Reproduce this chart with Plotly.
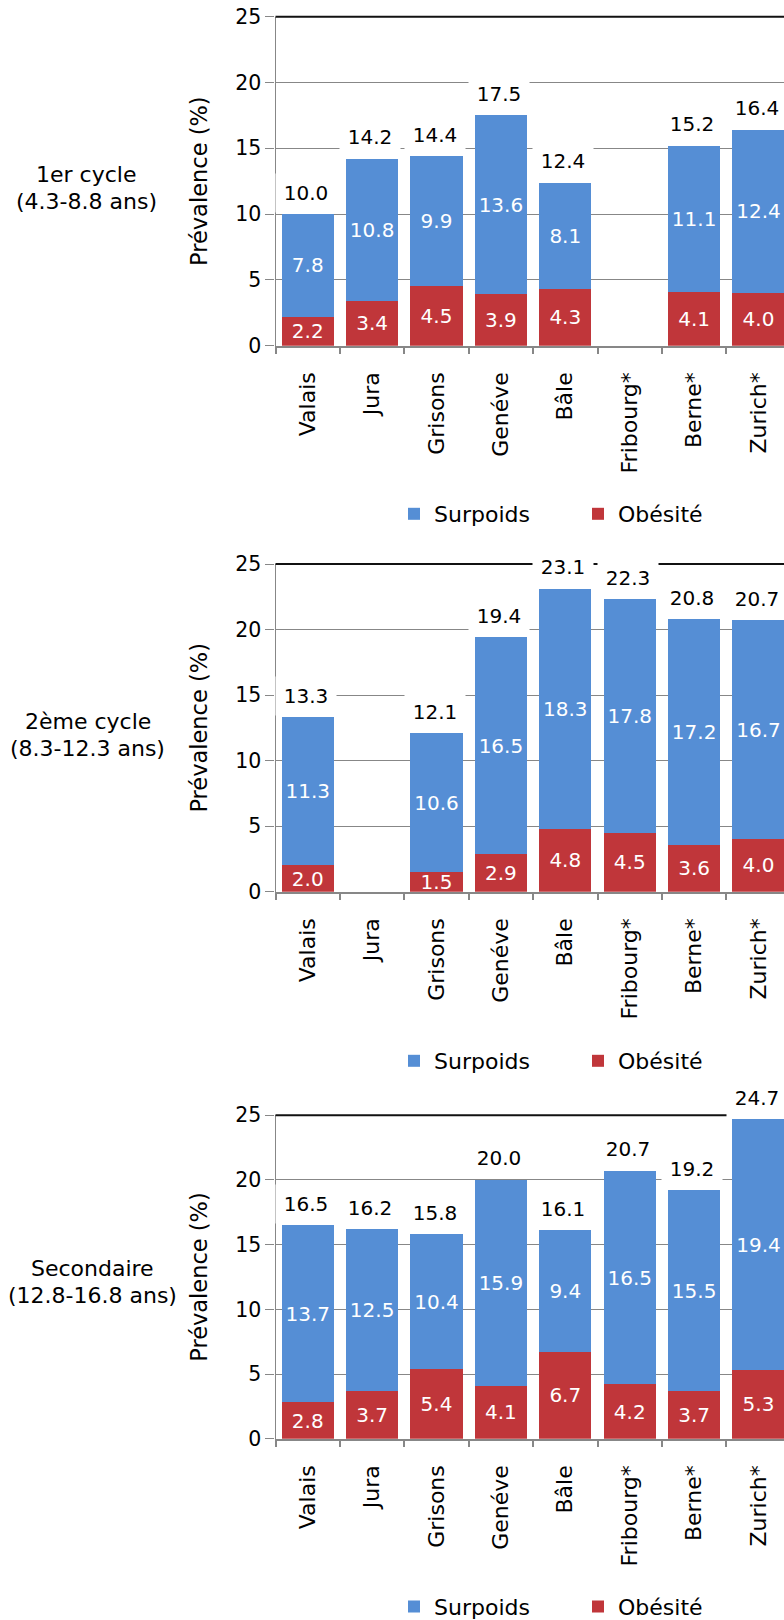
import plotly.graph_objects as go

# Cantons on the horizontal axis
categories = ["Valais", "Jura", "Grisons", "Genéve", "Bâle", "Fribourg*", "Berne*", "Zurich*"]

# Panel titles (age groups), two lines each
row_titles = ["1er cycle", "2ème cycle", "Secondaire"]
row_ages = ["(4.3-8.8 ans)", "(8.3-12.3 ans)", "(12.8-16.8 ans)"]

# Prevalence (%) — obesity and overweight, per age group
obesite_1 = [2.2, 3.4, 4.5, 3.9, 4.3, None, 4.1, 4.0]
surpoids_1 = [7.8, 10.8, 9.9, 13.6, 8.1, None, 11.1, 12.4]

obesite_2 = [2.0, None, 1.5, 2.9, 4.8, 4.5, 3.6, 4.0]
surpoids_2 = [11.3, None, 10.6, 16.5, 18.3, 17.8, 17.2, 16.7]

obesite_3 = [2.8, 3.7, 5.4, 4.1, 6.7, 4.2, 3.7, 5.3]
surpoids_3 = [13.7, 12.5, 10.4, 15.9, 9.4, 16.5, 15.5, 19.4]

y_ticks = [0, 5, 10, 15, 20, 25]

panels = [(obesite_1, surpoids_1), (obesite_2, surpoids_2), (obesite_3, surpoids_3)]

W, H = 784, 1620
FONT = "DejaVu Sans"
BLUE = "#558ED5"
RED = "#C0363A"
GRID = "#878787"

# pixel geometry of each panel: (top of axis = 25, bottom of axis = 0)
panel_px = [(16.7, 345.7), (564.0, 891.7), (1115.3, 1438.7)]
row_label_y = [188.3, 735, 1281.7]
row_label_x = [86, 87.5, 92]
legend_y = [514, 1061, 1606.7]
axis_left = 275.5
cat_px = 64.4


def py(p):
    return 1 - p / H


def fmt(v):
    return "" if v is None else f"{v:.1f}"


fig = go.Figure()
annotations = []
shapes = []
layout_axes = {}

for i, (ob, su) in enumerate(panels):
    n = "" if i == 0 else str(i + 1)
    xa, ya = "x" + n, "y" + n
    leg = "legend" + n

    fig.add_trace(go.Bar(
        x=categories, y=ob, name="Obésité", marker=dict(color=RED, line=dict(width=0)),
        text=[fmt(v) for v in ob], textposition="inside", insidetextanchor="middle",
        constraintext="none", textangle=0,
        textfont=dict(family=FONT, size=20, color="white"),
        xaxis=xa, yaxis=ya, legend=leg, legendrank=2, showlegend=True,
    ))
    fig.add_trace(go.Bar(
        x=categories, y=su, name="Surpoids", marker=dict(color=BLUE, line=dict(width=0)),
        text=[fmt(v) for v in su], textposition="inside", insidetextanchor="middle",
        constraintext="none", textangle=0,
        textfont=dict(family=FONT, size=20, color="white"),
        xaxis=xa, yaxis=ya, legend=leg, legendrank=1, showlegend=True,
    ))

    # totals above each stack, on a white label box
    for c, a, b in zip(categories, ob, su):
        if a is None or b is None:
            continue
        total = round(a + b, 1)
        annotations.append(dict(
            x=c, y=total, xref=xa, yref=ya, text=fmt(total), showarrow=False,
            yanchor="bottom", yshift=1.5, xshift=-2, width=60, height=38,
            bgcolor="white", borderpad=0,
            font=dict(family=FONT, size=20, color="black"),
        ))

    # black top border of the plot area (domain refs, so it is not clipped)
    shapes.append(dict(type="line", xref=xa + " domain", yref=ya + " domain",
                       x0=0, x1=1, y0=1, y1=1,
                       line=dict(color="#111111", width=2), layer="above"))

    # age-group label on the left (two lines)
    for txt, dy in ((row_titles[i], -13.35), (row_ages[i], 13.35)):
        annotations.append(dict(
            x=row_label_x[i] / W, y=py(row_label_y[i] + dy), xref="paper", yref="paper",
            text=txt, showarrow=False, align="center",
            xanchor="center", yanchor="middle",
            font=dict(family=FONT, size=22, color="black"),
        ))

    top, bot = panel_px[i]
    span = (W - axis_left) / cat_px
    layout_axes["xaxis" + n] = dict(
        domain=[axis_left / W, 1], anchor=ya, type="category",
        categoryorder="array", categoryarray=categories,
        range=[-0.5, -0.5 + span], automargin=False,
        showline=True, linecolor=GRID, linewidth=1.5,
        ticks="outside", tickson="boundaries", ticklen=7, tickcolor=GRID, tickwidth=1.5,
        ticklabelstandoff=16,
        tickangle=-90, tickfont=dict(family=FONT, size=22, color="black"),
        showgrid=False, zeroline=False, fixedrange=True,
    )
    layout_axes["yaxis" + n] = dict(
        domain=[py(bot), py(top)], anchor=xa, range=[0, 25], automargin=False,
        tickvals=y_ticks, ticktext=[str(t) for t in y_ticks],
        showgrid=True, gridcolor=GRID, gridwidth=1,
        showline=True, linecolor=GRID, linewidth=1.3,
        ticks="outside", ticklen=9, tickcolor=GRID, tickwidth=1.3,
        tickfont=dict(family=FONT, size=20.5, color="black"),
        title=dict(text="Prévalence (%)", font=dict(family=FONT, size=22.5, color="black"),
                   standoff=21),
        zeroline=False, fixedrange=True,
    )
    layout_axes[leg] = dict(
        orientation="h", x=394 / W, y=py(legend_y[i]), xanchor="left", yanchor="middle",
        xref="paper", yref="paper", traceorder="normal",
        font=dict(family=FONT, size=22, color="black"),
        entrywidth=139, entrywidthmode="pixels", bgcolor="rgba(0,0,0,0)",
        itemwidth=30, borderwidth=0,
    )

fig.update_layout(
    width=W, height=H, margin=dict(l=0, r=0, t=0, b=0, autoexpand=False),
    paper_bgcolor="white", plot_bgcolor="white",
    barmode="stack", bargap=0.19,
    font=dict(family=FONT, color="black"),
    annotations=annotations, shapes=shapes,
    uniformtext=dict(mode=False),
    **layout_axes,
)

fig.write_html("out.html")
